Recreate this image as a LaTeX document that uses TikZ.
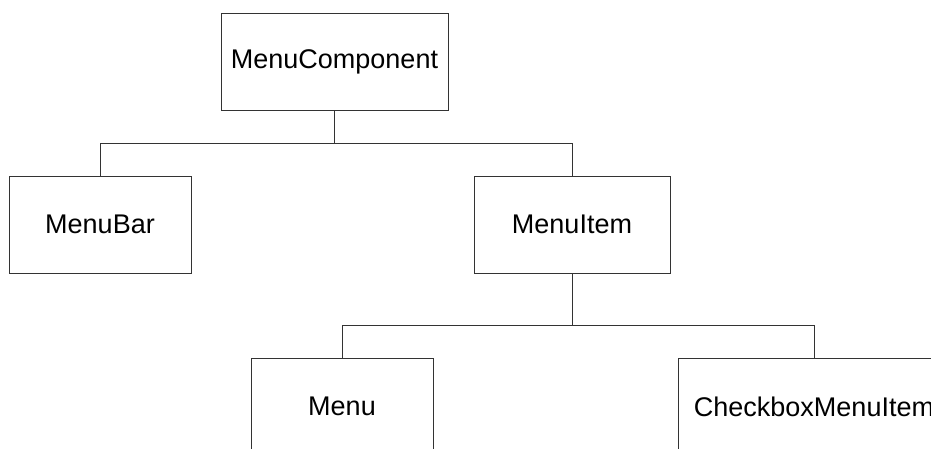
\documentclass[tikz,border=0pt]{standalone}
\usepackage{fontspec}
\setmainfont{Liberation Sans}
\usetikzlibrary{positioning, calc}
\begin{document}
\begin{tikzpicture}[x=1pt,y=1pt,block/.style={rectangle,draw=black!80,line width=0.8pt,minimum height=97pt,align=center,inner sep=0pt,font=\fontsize{27}{32}\selectfont}, link/.style={-, draw=black!80, line width=0.8pt}]
\useasboundingbox (0,0) rectangle (931,448);
\node (mc) [block, minimum width=227pt] at (334.5,386) {MenuComponent};
\node (mb) [block, minimum width=182pt] at (100,223.5) {MenuBar};
\node (mi) [block, minimum width=196pt] at (572,223.5) {MenuItem};
\node (mn) [block, minimum width=182pt] at (342,41.5) {Menu};
\node (cb) [block, minimum width=272pt] at (814,41.5) {CheckboxMenuItem};
  \begin{scope}
    \coordinate (j1) at ($(mc.south)+(0,-32)$);
    \draw [link] (mc.south) -- (j1) -| (mb.north);
    \draw [link] (j1) -| (mi.north);
    \coordinate (j2) at ($(mi.south)+(0,-52)$);
    \draw [link] (mi.south) -- (j2) -| (mn.north);
    \draw [link] (j2) -| (cb.north);
  \end{scope}
\end{tikzpicture}
\end{document}
